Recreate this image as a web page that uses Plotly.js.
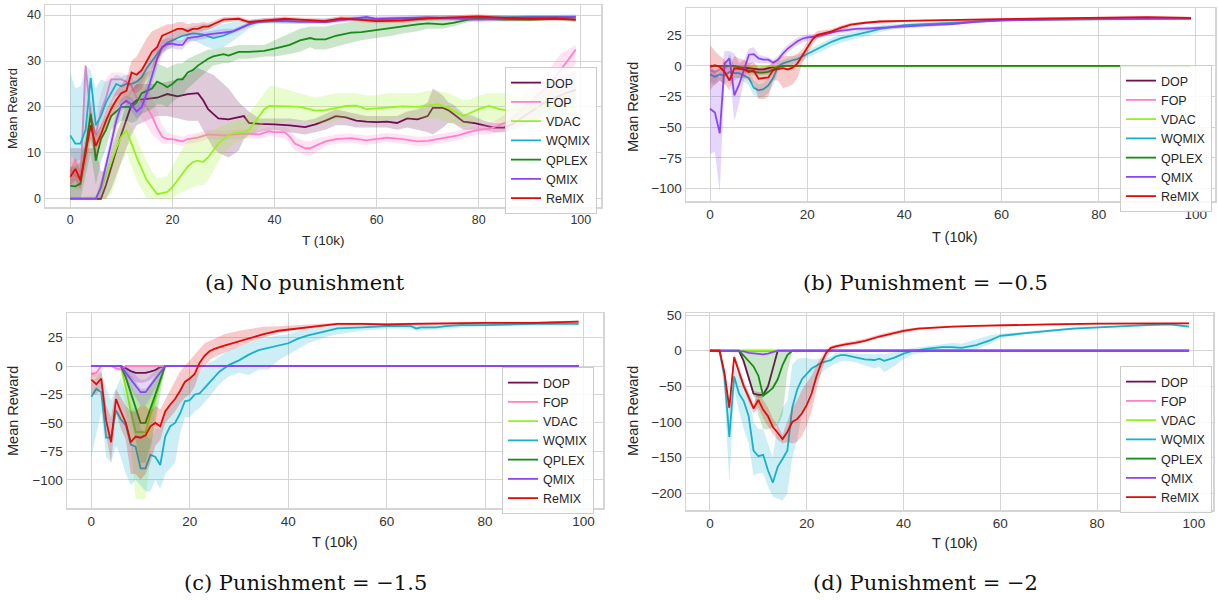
<!DOCTYPE html>
<html>
<head>
<meta charset="utf-8">
<script src="https://cdn.plot.ly/plotly-3.0.1.min.js"></script>
<style>html,body{margin:0;padding:0;background:#fff;}#chart{width:1218px;height:600px;}</style>
</head>
<body>
<div id="chart"></div>
<script>
// ---------- Series names & tick labels ----------
const SERIES = ['DOP','FOP','VDAC','WQMIX','QPLEX','QMIX','ReMIX'];
const X_TICKS = [0,20,40,60,80,100];
const A_Y_TICKS = [0,10,20,30,40];
const B_Y_TICKS = [-100,-75,-50,-25,0,25];
const C_Y_TICKS = [-100,-75,-50,-25,0,25];
const D_Y_TICKS = [-200,-150,-100,-50,0,50];
const CAPTIONS = ['(a) No punishment','(b) Punishment = \u22120.5','(c) Punishment = \u22121.5','(d) Punishment = \u22122'];

// ---------- Panel (a): No punishment ----------
const A_DOP_X = [0,3,5,6,7,8,9,10,11,12,13,15,17,19,21,23,25,26,27,28,29,31,33,34,35,37,40,43,46,48,50,52,54,56,58,60,62,64,66,68,70,71,73,74,75,77,79,81,83,85,87,89,91,93,95,97,99];
const A_DOP = [0,0,0,0,3,7,10.5,14,17.5,20.5,21.5,21.8,22,22.8,22.3,22.8,23,21.5,19.5,18.5,17.5,17.3,17.8,18,16.5,16.3,16.2,16,15.6,16.2,17,18,17.7,17,16.8,16.7,16.8,16.5,17.5,17.3,18,19.8,19.8,19.3,18.5,16.8,16.5,16,15.5,15.5,16.5,18,19.5,21,22,23,23.7];
const A_DOP_LO = [0,0,0,0,0,2,5,8,11,14,16,17,18,18,17.5,17,17,15,13,11,10,9,10.5,13,14,14.5,15,14.5,14,14.5,15,16,16,15.5,15.5,15.5,15.5,15,15.5,15,14.5,14,15.5,16.5,16.5,15,15,15,14.5,14.5,15,16,17,18.5,19.5,20.5,21];
const A_DOP_HI = [11,11,11,6,6,10,14,17,21,24,25,25,25,25.5,26,27,28.5,28,27.5,27,26,24,21,20,19,17.5,17.5,17.5,17,17.5,18.5,19.5,19,18.5,18,18,18,18,19,19.5,21,24,22.5,21,20.5,18.5,18,17,16.5,16.5,18,20,22,24,25.5,27,28];

const A_FOP_X = [0,1,2,3,4,5,6,7,8,9,10,11,12,13,14,15,16,17,18,19,20,22,23,25,27,30,32,35,37,39,40,42,43,44,46,47,48,50,52,55,58,60,62,65,68,70,72,74,76,78,80,82,84,86,88,90,92,94,96,99];
const A_FOP = [6.5,5,4.5,29,18,14,19,22,26,26,26,25.5,24.5,22,21,20,18,15.5,13.5,13,13,12.5,13,13.3,14,13.8,14,14.2,14,14.7,14.5,14.5,13.5,12,11,11,11.5,12.5,13,13.2,12.7,13,13.3,13,12.5,12.6,13,13.3,13.8,14.5,15,15.2,16,17,19,21,23,25,28,32.5];
const A_FOP_LO = [3,2,2,15,12,10,15,18,22,22.5,22.5,22,21,19,17.5,16,14,13,12,12,12,11.5,12,12.3,13,12.8,13,13.2,13,13.7,13.5,13.2,12,10.5,9.5,9.5,10,11.5,12,12.2,11.7,12,12.3,12,11.5,11.6,12,12.3,12.8,13.5,14,14,14.5,15,16.5,18,20,21.5,24,29.5];
const A_FOP_HI = [10,8,8,29.5,22,18,23,26,27.5,27.5,27.5,27,26.5,25,24.5,24,22.5,19,16,14.5,14,13.5,14,14.3,15,14.8,15,15.2,15,15.7,15.5,15.7,15,13.5,12.5,12.5,13,13.5,14,14.2,13.7,14,14.3,14,13.5,13.6,14,14.3,14.8,15.5,16,16.4,17.5,19,21.5,24,26,28.5,31.5,33.5];

const A_VDAC_X = [0,5,6,7,8,9,10,11,12,13,14,15,16,17,18,19,20,21,22,23,24,25,26,27,28,29,30,31,32,34,35,36,37,38,39,40,43,45,48,50,52,54,56,58,60,62,65,68,70,72,74,76,77,78,80,82,84,86,88,90,94,99];
const A_VDAC = [0,0,2,5,8,11,13.5,14.8,12,9,6.5,4,2.5,1,1.2,1.5,2.5,4,5.5,7,8,8.3,8,9,10.5,12,13,14,14.3,14.5,15,16.5,18,19.5,20.2,20.2,20.1,20,19.2,19.3,19.8,20.2,20.3,19.5,19.7,19.9,20.1,20,20.3,20.6,19.8,18.5,18,18.5,19.5,20.2,19.5,19.2,19.5,19.8,20,20];
const A_VDAC_LO = [0,0,0,0,1,4,8,10,7,4,2,0,0,0,0,0,0,1,1.5,2,2.5,3,3,4,6,8,10,11,12,13,13.5,14.5,15.5,16.5,17,16.5,17,17,16.5,16.5,17,17.5,17.5,17,17,17,17.5,17.5,17.5,17.5,16.5,16,15.5,16,17,17,16.5,16.5,17,17,17.5,17.5];
const A_VDAC_HI = [0,1,4,8,11,14,16.5,17,15.5,13,10.5,8,6,4.5,4.5,5,7,9,11,12.5,13.5,14,14,14.5,15,15.5,16,16.5,17,17.5,18.5,20,21.5,23,24.5,24.5,23.5,23,22,22.5,23,23,23,22.5,22.5,23,23,23,23.5,23.5,23,22,21.5,21.5,22.5,23,23,23,23,23,23.5,23.5];

const A_WQMIX_X = [0,1,2,3,4,5,6,7,8,9,10,11,12,13,14,15,16,17,18,19,20,22,24,26,28,30,32,35,37,40,45,50,55,60,65,70,75,80,85,90,95,99];
const A_WQMIX = [13.8,12,12,15,26.3,16,18,21,23,25,24.5,25,25,25.5,26.5,28.5,30,31.5,33,34,34.5,35.5,36,35.8,35,35.5,36.5,38,38.5,38.7,38.6,38.8,39.2,39,39.2,39.3,39.4,39.5,39.5,39.6,39.6,39.6];
const A_WQMIX_LO = [10,8,8.5,10,18,13,15.5,18.5,20.5,22.5,22.5,23,23.5,24,25,27,28.5,30,31.5,32.5,33,34,34.5,33.5,32.5,33,34.5,37,38,38.2,38.1,38.3,38.7,38.5,38.7,38.8,38.9,39,39,39.1,39.1,39.1];
const A_WQMIX_HI = [27.5,24,24.5,29,28,24,26,25.5,26,27,26.5,27,27,27.5,28.5,30,31.5,33,34.5,35.5,36,37,37.5,38,38,38,38.5,39,39,39.2,39.1,39.3,39.7,39.5,39.7,39.8,39.9,40,40,40.1,40.1,40.1];

const A_QPLEX_X = [0,1,2,3,4,5,6,7,8,9,10,11,12,13,14,15,16,17,18,19,20,21,22,23,24,25,27,28,30,31,33,35,38,40,43,45,47,48,50,52,55,57,60,63,65,68,70,73,75,78,80,85,90,95,99];
const A_QPLEX = [2.8,2.7,3.3,11,18.5,8.3,13,15,18,19,20,20,20,21,23,23.5,24,25.5,25,24.3,25,26,26,27.5,28,29,30.5,31,31.5,31.2,32,32,32.2,32.7,33.5,34.5,35,34.7,34.7,35.5,36.2,36.3,36.8,37.2,37.6,38,38.2,38,38.3,39,39.2,39,39,39.2,39];
const A_QPLEX_LO = [0,0,0,5,10,3,8,11,15,16,17,17,16.5,17,18.5,19,19.5,20.5,20.5,20,21,22,22.5,24,25,26,28,29,29.5,29.5,30.5,30.5,31,31,31.5,32,33,32.5,32.5,33,34,34.5,35,35.5,36,36.5,37,37,37.5,38.5,38.8,38.6,38.6,38.8,38.6];
const A_QPLEX_HI = [7,7,8,14,21,14,16,18,20.5,21.5,22.5,23,23.5,25,27,27.5,28,29.5,29,28.5,29,29.5,29.5,30.5,31,31.5,32.5,32.5,33,33,33.5,33.5,33.5,34.5,36,37,37.5,37.5,37.5,38,38.5,38.5,38.8,39,39.2,39.5,39.5,39.3,39.5,39.5,39.6,39.4,39.4,39.6,39.4];

const A_QMIX_X = [0,5,6,7,8,9,10,11,12,13,14,15,16,17,18,19,20,21,22,23,25,27,30,32,34,36,38,40,45,50,55,58,60,65,70,75,80,85,90,95,99];
const A_QMIX = [0,0,2.5,7,12,17,20.5,21.3,20.5,19,20,23,27,30.5,33,33.7,33.8,33.5,33.5,35,35.3,35.8,36.2,36.5,37.5,38.5,38.8,38.8,38.6,38.5,39.2,39.6,39.2,39.3,39.5,39.3,39,39.2,39.5,39.5,39.6];
const A_QMIX_LO = [0,0,0.5,4.5,9.5,15,19,20,19,17.5,18.5,21,25,28.5,31.5,32.5,32.8,32.5,32.5,34,34.5,35,35.5,36,37,38,38.3,38.3,38.1,38,38.7,39.1,38.7,38.8,39,38.8,38.5,38.7,39,39,39.1];
const A_QMIX_HI = [0,0,4,9,14,19,22,22.5,22,20.5,21.5,25,29,32.5,34.5,35,35,34.5,34.5,36,36,36.5,37,37,38,39,39.3,39.3,39.1,39,39.7,40.1,39.7,39.8,40,39.8,39.5,39.7,40,40,40.1];

const A_REMIX_X = [0,1,2,3,4,5,6,7,8,9,10,11,12,13,14,15,16,17,18,19,20,21,22,23,24,25,26,27,28,30,33,35,38,40,42,45,48,50,53,56,60,65,70,75,80,85,90,95,99];
const A_REMIX = [4.8,6.5,4,10,16,11.5,14,17,19.5,21.5,23,23.5,27.5,27,28,30,32,33,35.5,36,36.5,37,37,36.5,37,37,37.5,37.5,38,39,39.2,38.5,38.8,39,39.2,39,38.8,38.7,39.3,39,38.7,38.8,39.3,39.5,39.7,39.4,39.2,39.3,39];
const A_REMIX_LO = [3,4,2,7,13,9,12,15,17.5,19.5,21,21,23.5,23,24,26,28,29.5,32,33,34,35,35.5,35.5,36,36,36.5,36.8,37.3,38.4,38.7,38,38.3,38.5,38.7,38.5,38.3,38.2,38.8,38.5,38.2,38.3,38.8,39,39.2,38.9,38.7,38.8,38.5];
const A_REMIX_HI = [6.5,9,6,13,19,14,16,19,21.5,23.5,25,26,30,31,33,35,36.5,37,37.5,38,38,38.5,38.5,38,38.3,38.2,38.5,38.3,38.7,39.6,39.7,39,39.3,39.5,39.7,39.5,39.3,39.2,39.8,39.5,39.2,39.3,39.8,40,40.2,39.9,39.7,39.8,39.5];

// ---------- Panel (b): Punishment = -0.5 ----------
const B_DOP_X = [0,5,6,8,9,10,11,12,13,14,99];
const B_DOP = [0,0,-1,-2,-3,-3,-3,-2,-1,0,0];
const B_DOP_LO = [0,0,-3,-5,-6,-6,-6,-5,-3,0,0];
const B_DOP_HI = [0,0,0,0,-1,-1,-1,0,0,0,0];

const B_FOP_X = [0,1,2,3,4,99];
const B_FOP = [-4,-5,-3,-1,0,0];
const B_FOP_LO = [-12,-14,-8,-4,0,0];
const B_FOP_HI = [2,1,0,0,0,0];

const B_VDAC_X = [0,99];
const B_VDAC = [0,0];

const B_WQMIX_X = [0,1,2,3,4,5,6,7,8,9,10,11,12,13,14,15,16,17,18,19,20,22,23,25,27,30,33,35,38,40,45,50,55,60,70,80,90,99];
const B_WQMIX = [-7,-9,-7,-8,-5,-6,-6,-8,-10,-18,-20,-19,-16,-10,-0.5,2,3.5,4.5,5.5,7.5,10,14,16,19.5,22.5,25,28,30,32,33,34,35,36,37,37.5,38,38,38];
const B_WQMIX_LO = [-14,-16,-12,-15,-12,-12,-10,-13,-16,-24,-26,-25,-22,-16,-5,-2,0,1.5,2.5,4,6.5,10,12,15.5,19,22,25,27.5,30,31,32.5,33.5,35,36,37,37.5,37.5,37.5];
const B_WQMIX_HI = [-2,-3,-3,-1,10,0,-2,-4,-5,-12,-15,-14,-10,-4,3,5,6.5,7.5,8.5,10.5,13,17,19,22.5,25.5,28,31,32.5,34,34.5,35.5,36.5,37,37.8,38,38.5,38.5,38.5];

const B_QPLEX_X = [0,5,6,7,8,9,10,11,12,13,14,15,99];
const B_QPLEX = [0,0,-1,-2,-4,-5,-5.5,-5.5,-5,-3,-1,0,0];
const B_QPLEX_LO = [0,0,-3,-5,-7,-8,-8,-8,-7.5,-5.5,-3,0,0];
const B_QPLEX_HI = [0,0,0,0,-1.5,-2.5,-3,-3,-2.5,-1,0,0,0];

const B_QMIX_X = [0,1,2,3,4,5,6,7,8,9,10,11,12,13,14,15,16,17,18,19,20,22,24,26,28,30,33,35,40,45,50,55,60,70,80,90,99];
const B_QMIX = [-35,-38,-55,2,6,-24,-15,-3,9,9.5,6,5,5,2.5,5,10,14,17,20,22,23,24,26,28,29,30,30.5,31,32,33,34,36,37,37.5,38.5,39,39];
const B_QMIX_LO = [-72,-70,-103,-10,-5,-45,-30,-12,0,3,2,2,2,0,2,7,11,14,17,19,20.5,22,24,26,27,28.5,29,29.5,30.5,31.5,32.5,34.5,36,37,38,38.5,38.5];
const B_QMIX_HI = [0,-5,-10,12,12,10,2,5,14,15,9,8,7,5,8,13,17,20,23,24.5,25.5,26,28,30,31,31.5,32,32.5,33.5,34.5,35.5,37.5,38,38,39,39.5,39.5];

const B_REMIX_X = [0,1,2,3,4,5,6,7,8,9,10,11,12,13,14,15,16,17,18,19,20,21,22,23,25,27,29,32,35,40,45,50,55,60,70,80,90,99];
const B_REMIX = [-1,0.5,-1,-5,-12,-2,-2.5,-3,-5,-4,-10.5,-10,-9.5,-3.5,-3,-2,-3,-1.5,2,8,15,21,25,26,28,31,33.5,35,36,36.5,37,37.5,38,38,38.5,39,39.5,39];
const B_REMIX_LO = [-20,-15,-12,-15,-20,-10,-10,-10,-12,-15,-27,-27,-25,-12,-12,-18,-17,-15,-10,2,10,17,22,23.5,26,29,32,34,35,35.7,36.3,36.8,37.3,37.3,37.8,38.3,38.8,38.3];
const B_REMIX_HI = [17,12,8,5,-2,8,6,5,2,3,-2,-1,0,3,5,8,8,8,10,13,19,24,28,28.5,30,33,35,36,37,37.3,37.7,38.2,38.7,38.7,39.2,39.7,40.2,39.7];

// ---------- Panel (c): Punishment = -1.5 ----------
const C_DIP_X = [0,6,7,8,9,10,11,12,13,14,15,99];
const C_DOP = [0,0,-2,-4.5,-6,-6,-6,-5,-3.5,-1,0,0];
const C_DOP_LO = [0,0,-6,-10,-14,-15,-14,-12,-8,-3,0,0];
const C_DOP_HI = [0,0,0,0,0,0,0,0,0,0,0,0];

const C_FOP_X = [0,1,2,3,4,5,6,7,99];
const C_FOP = [-7,-6,0,0,0,-2,-3,0,0];
const C_FOP_LO = [-10,-9,-2,0,0,-4,-5,0,0];
const C_FOP_HI = [0,0,0,0,0,0,0,0,0];

const C_VDAC = [0,0,-20,-40,-58,-58,-58,-43,-29,-14,0,0];
const C_VDAC_LO = [0,0,-40,-70,-117,-117,-117,-80,-40,-10,0,0];
const C_VDAC_HI = [0,0,-5,-15,-25,-25,-25,-15,-5,0,0,0];

const C_WQMIX_X = [0,1,2,3,4,5,6,7,8,9,10,11,12,13,14,15,16,17,18,19,20,21,22,23,24,25,26,27,28,30,32,34,36,38,40,42,44,46,48,50,55,60,65,66,67,70,72,75,80,90,99];
const C_WQMIX = [-27,-20,-23,-63,-63,-39,-47,-52,-69,-71,-90,-90,-78,-80,-87,-62,-53,-50,-42,-31,-30,-25,-24,-19,-14,-10,-5,-2,1,5,10,14,16,18,20,24,27,29,31,33,34,35,35,33,34,34,35,36,36,37,37];
const C_WQMIX_LO = [-80,-60,-40,-80,-85,-70,-80,-95,-105,-100,-105,-110,-110,-100,-108,-95,-90,-85,-60,-45,-45,-40,-37,-32,-27,-22,-16,-12,-9,-6,-8,-3,-3,5,10,15,20,23,26,28,31,33,33,31,31,32,33,34,35,36,36];
const C_WQMIX_HI = [-15,-10,-5,-20,-30,-20,-10,-25,-40,-35,-55,-60,-65,-55,-55,-40,-35,-30,-20,-15,-12,-8,-5,-1,3,5,8,11,14,17,20,23,25,27,28,31,33,34,35,36,37,37,37,36,36,36,37,37.5,37.5,38,38];

const C_QPLEX = [0,0,-10,-24,-36,-50,-50,-38,-25,-12,0,0];
const C_QPLEX_LO = [0,0,-20,-45,-65,-85,-85,-70,-50,-25,0,0];
const C_QPLEX_HI = [0,0,-2,-8,-15,-20,-20,-15,-8,-3,0,0];

const C_QMIX = [0,0,-6,-12,-18,-23,-23,-17,-11,-5,0,0];
const C_QMIX_LO = [0,0,-12,-20,-28,-35,-35,-28,-20,-10,0,0];
const C_QMIX_HI = [0,0,0,-4,-8,-12,-12,-8,-4,0,0,0];

const C_REMIX_X = [0,1,2,3,4,5,6,7,8,9,10,11,12,13,14,15,16,17,18,19,20,21,22,23,24,25,27,30,33,35,38,40,43,45,50,55,60,65,70,80,90,99];
const C_REMIX = [-12,-16,-11,-48,-67,-29,-40,-50,-67,-62,-63,-61,-53,-50,-53,-40,-34,-29,-22,-14,-11,-7,3,9,13,15,18,22,26,28,31,32,34,35,37,37,36.5,37,37.5,38,38,39];
const C_REMIX_LO = [-25,-25,-20,-60,-85,-40,-55,-65,-95,-95,-100,-95,-85,-70,-65,-50,-45,-40,-33,-28,-25,-18,-5,0,5,8,12,17,22,25,29,30.5,32.5,33.5,36,36,35.5,36,36.5,37,37,38];
const C_REMIX_HI = [-5,-8,-3,-35,-45,-20,-28,-35,-40,-40,-35,-35,-40,-35,-38,-30,-22,-13,-5,0,5,10,16,20,22,24,28,31,33,34.5,35,35.5,36.5,37,38,38,37.5,38,38.5,39,39,40];

// ---------- Panel (d): Punishment = -2 ----------
const D_DOP_X = [0,6,7,8,9,10,11,12,13,14,99];
const D_DOP = [0,0,-15,-38,-60,-62,-62,-50,-25,0,0];
const D_DOP_LO = [0,0,-19,-42,-64,-66,-66,-54,-29,0,0];
const D_DOP_HI = [0,0,-11,-34,-56,-58,-58,-46,-21,0,0];

const D_FOP_X = [0,99];
const D_FOP = [0,0];

const D_VDAC_X = [0,6,7,13,14,99];
const D_VDAC = [0,0,0,0,0,0];
const D_VDAC_LO = [0,0,0,0,0,0];
const D_VDAC_HI = [0,0,3,3,0,0];

const D_WQMIX_X = [0,1,2,3,4,5,6,7,8,9,10,11,12,13,14,15,16,17,18,19,20,21,22,23,24,25,26,27,28,30,32,34,35,36,38,40,42,45,48,50,52,55,58,60,65,70,75,80,85,90,95,99];
const D_WQMIX = [0,0,-1,-36,-121,-36,-60,-71,-92,-140,-148,-146,-168,-185,-163,-152,-140,-80,-55,-40,-32,-25,-21,-17,-15,-13,-8,-6,-6,-9,-12,-13,-11,-14,-10,-4,0,3,5,5,4,8,15,21,25,28,31,33,35,36,37,34];
const D_WQMIX_LO = [0,0,-5,-60,-185,-55,-85,-110,-130,-175,-172,-172,-190,-205,-208,-210,-200,-150,-125,-90,-70,-55,-45,-32,-25,-22,-18,-15,-14,-16,-20,-25,-22,-30,-22,-12,-5,-2,0,0,-1,2,10,18,23,26.5,29.5,31.5,33.5,34.5,35.5,32.5];
const D_WQMIX_HI = [0,0,0,-25,-70,-20,-35,-40,-60,-100,-110,-110,-130,-150,-100,-80,-70,-20,-12,-10,-10,-12,-12,-10,-10,-8,-3,-2,-2,-4,-5,-5,-4,-5,-2,2,4,7,10,11,10,16,22,24,27,29.5,32.5,34.5,36.5,37.5,38.5,35.5];

const D_QPLEX_X = [0,6,7,8,9,10,11,12,13,14,15,16,17,99];
const D_QPLEX = [0,0,-7,-15,-22,-35,-63,-58,-52,-40,-20,-6,0,0];
const D_QPLEX_LO = [0,0,-15,-35,-60,-90,-110,-110,-108,-105,-90,-30,0,0];
const D_QPLEX_HI = [0,0,0,0,0,0,0,0,0,0,0,0,0,0];

const D_QMIX_X = [0,6,7,8,9,10,11,12,13,14,99];
const D_QMIX = [0,0,-1,-3,-4,-5,-5,-4,-2,0,0];

const D_REMIX_X = [0,1,2,3,4,5,6,7,8,9,10,11,12,13,14,15,16,17,18,19,20,21,22,23,24,25,26,27,28,30,32,35,38,40,43,45,50,55,60,70,80,90,99];
const D_REMIX = [0,0,0,-31,-80,-9,-31,-50,-65,-81,-69,-83,-92,-107,-115,-124,-114,-100,-96,-88,-76,-60,-36,-17,-3,4,6,8,9,11,14,20,25,28,31,32,34,35,36,37,38,38.5,38.5];
const D_REMIX_LO = [0,0,0,-36,-85,-14,-36,-55,-72,-88,-80,-95,-105,-117,-125,-130,-128,-130,-128,-120,-105,-85,-55,-30,-10,0,3,5,6.5,8.5,11.5,17.5,22.5,25.5,29,30.5,32.5,34,35,36,37,37.5,37.5];
const D_REMIX_HI = [0,0,0,-26,-75,-4,-26,-45,-58,-74,-58,-70,-80,-95,-105,-118,-100,-80,-70,-55,-45,-35,-20,-8,2,7,9,11,12,14,17,23,27.5,30.5,33,33.5,35.5,36,37,38,39,39.5,39.5];

// ---------- Styling ----------
const COLORS = {DOP:'#6d0f50', FOP:'#ff7fca', VDAC:'#96f21e', WQMIX:'#17b1cc', QPLEX:'#158c15', QMIX:'#8b45f6', ReMIX:'#e00b0b'};
const FONT = 'Liberation Sans, Arial, Helvetica, sans-serif';

function rgba(hex, a){
  const n = parseInt(hex.slice(1),16);
  return 'rgba('+((n>>16)&255)+','+((n>>8)&255)+','+(n&255)+','+a+')';
}

const traces = [];
function addSeries(panel, name, xs, ys, lo, hi){
  const sfx = panel === 1 ? '' : String(panel);
  const xa = 'x'+sfx, ya = 'y'+sfx;
  const lg = 'legend'+sfx;
  if (lo && hi){
    traces.push({
      type:'scatter', mode:'lines', xaxis:xa, yaxis:ya,
      x: xs.concat(xs.slice().reverse()),
      y: hi.concat(lo.slice().reverse()),
      fill:'toself', fillcolor: rgba(COLORS[name], 0.22),
      line:{width:0, color:'rgba(0,0,0,0)'},
      hoverinfo:'skip', showlegend:false, legend: lg
    });
  }
  traces.push({
    type:'scatter', mode:'lines', xaxis:xa, yaxis:ya, name:name,
    x: xs, y: ys, line:{color:COLORS[name], width:1.8},
    showlegend:true, legend: lg
  });
}

// Panel a
addSeries(1,'DOP',A_DOP_X,A_DOP,A_DOP_LO,A_DOP_HI);
addSeries(1,'FOP',A_FOP_X,A_FOP,A_FOP_LO,A_FOP_HI);
addSeries(1,'VDAC',A_VDAC_X,A_VDAC,A_VDAC_LO,A_VDAC_HI);
addSeries(1,'WQMIX',A_WQMIX_X,A_WQMIX,A_WQMIX_LO,A_WQMIX_HI);
addSeries(1,'QPLEX',A_QPLEX_X,A_QPLEX,A_QPLEX_LO,A_QPLEX_HI);
addSeries(1,'QMIX',A_QMIX_X,A_QMIX,A_QMIX_LO,A_QMIX_HI);
addSeries(1,'ReMIX',A_REMIX_X,A_REMIX,A_REMIX_LO,A_REMIX_HI);
// Panel b
addSeries(2,'DOP',B_DOP_X,B_DOP,B_DOP_LO,B_DOP_HI);
addSeries(2,'FOP',B_FOP_X,B_FOP,B_FOP_LO,B_FOP_HI);
addSeries(2,'VDAC',B_VDAC_X,B_VDAC,null,null);
addSeries(2,'WQMIX',B_WQMIX_X,B_WQMIX,B_WQMIX_LO,B_WQMIX_HI);
addSeries(2,'QPLEX',B_QPLEX_X,B_QPLEX,B_QPLEX_LO,B_QPLEX_HI);
addSeries(2,'QMIX',B_QMIX_X,B_QMIX,B_QMIX_LO,B_QMIX_HI);
addSeries(2,'ReMIX',B_REMIX_X,B_REMIX,B_REMIX_LO,B_REMIX_HI);
// Panel c
addSeries(3,'DOP',C_DIP_X,C_DOP,C_DOP_LO,C_DOP_HI);
addSeries(3,'FOP',C_FOP_X,C_FOP,C_FOP_LO,C_FOP_HI);
addSeries(3,'VDAC',C_DIP_X,C_VDAC,C_VDAC_LO,C_VDAC_HI);
addSeries(3,'WQMIX',C_WQMIX_X,C_WQMIX,C_WQMIX_LO,C_WQMIX_HI);
addSeries(3,'QPLEX',C_DIP_X,C_QPLEX,C_QPLEX_LO,C_QPLEX_HI);
addSeries(3,'QMIX',C_DIP_X,C_QMIX,C_QMIX_LO,C_QMIX_HI);
addSeries(3,'ReMIX',C_REMIX_X,C_REMIX,C_REMIX_LO,C_REMIX_HI);
// Panel d
addSeries(4,'DOP',D_DOP_X,D_DOP,D_DOP_LO,D_DOP_HI);
addSeries(4,'FOP',D_FOP_X,D_FOP,null,null);
addSeries(4,'VDAC',D_VDAC_X,D_VDAC,D_VDAC_LO,D_VDAC_HI);
addSeries(4,'WQMIX',D_WQMIX_X,D_WQMIX,D_WQMIX_LO,D_WQMIX_HI);
addSeries(4,'QPLEX',D_QPLEX_X,D_QPLEX,D_QPLEX_LO,D_QPLEX_HI);
addSeries(4,'QMIX',D_QMIX_X,D_QMIX,null,null);
addSeries(4,'ReMIX',D_REMIX_X,D_REMIX,D_REMIX_LO,D_REMIX_HI);

const W = 1218, H = 600;
function px(x){ return x / W; }
function py(y){ return 1 - y / H; }

function xAxis(domain, anchor, fs){
  return {domain:domain, anchor:anchor, range:[-4.95,103.95], tickvals:X_TICKS,
    showgrid:true, gridcolor:'#d5d5d5', gridwidth:1, zeroline:false,
    showline:true, mirror:true, linecolor:'#d5d5d5', linewidth:1.5,
    ticks:'', tickfont:{family:FONT, size:fs, color:'#333'}, automargin:false, fixedrange:true};
}
function yAxis(domain, anchor, range, tv, fs){
  return {domain:domain, anchor:anchor, range:range, tickvals:tv,
    showgrid:true, gridcolor:'#d5d5d5', gridwidth:1, zeroline:false,
    showline:true, mirror:true, linecolor:'#d5d5d5', linewidth:1.5,
    ticks:'', tickfont:{family:FONT, size:fs, color:'#333'}, automargin:false, fixedrange:true};
}
function legendAt(x, y){
  return {x:px(x), y:py(y), xanchor:'left', yanchor:'top', xref:'paper', yref:'paper',
    bgcolor:'rgba(255,255,255,0.85)', bordercolor:'#cccccc', borderwidth:1,
    font:{family:FONT, size:12.5, color:'#262626'}, tracegroupgap:0, itemwidth:30};
}
function ann(text, x, y, size, angle, fam){
  return {text:text, xref:'paper', yref:'paper', x:px(x), y:py(y), xanchor:'center', yanchor:'middle',
    showarrow:false, textangle:angle||0, font:{family:fam||FONT, size:size, color:fam ? '#111' : '#262626'}};
}

const SERIF = 'DejaVu Serif, Liberation Serif, serif';
const layout = {
  width:W, height:H, margin:{l:0,r:0,t:0,b:0},
  paper_bgcolor:'#ffffff', plot_bgcolor:'#ffffff', showlegend:true,
  xaxis: xAxis([px(45), px(601)], 'y', 12.5),
  yaxis: yAxis([py(207), py(5)], 'x', [-1.8,42.2], A_Y_TICKS, 12.5),
  xaxis2: xAxis([px(686), px(1215)], 'y2', 13.5),
  yaxis2: yAxis([py(201), py(8)], 'x2', [-110,47], B_Y_TICKS, 13.5),
  xaxis3: xAxis([px(67), px(603)], 'y3', 13.5),
  yaxis3: yAxis([py(508), py(313)], 'x3', [-124.8,46.6], C_Y_TICKS, 13.5),
  xaxis4: xAxis([px(686), px(1213)], 'y4', 13.5),
  yaxis4: yAxis([py(510), py(313)], 'x4', [-223.5,53], D_Y_TICKS, 13.5),
  legend: legendAt(505, 67),
  legend2: legendAt(1120, 65),
  legend3: legendAt(502, 367),
  legend4: legendAt(1120, 366),
  annotations: [
    ann('Mean Reward', 13, 109, 13, -90),
    ann('T (10k)', 323, 240, 13.5),
    ann('Mean Reward', 633, 107, 14.5, -90),
    ann('T (10k)', 955, 237, 14.5),
    ann('Mean Reward', 13, 411, 14.5, -90),
    ann('T (10k)', 335, 542, 14.5),
    ann('Mean Reward', 633, 411, 14.5, -90),
    ann('T (10k)', 955, 543, 14.5),
    ann(CAPTIONS[0], 305, 283, 21, 0, SERIF),
    ann(CAPTIONS[1], 925, 283, 21, 0, SERIF),
    ann(CAPTIONS[2], 305, 583, 21, 0, SERIF),
    ann(CAPTIONS[3], 925, 583, 21, 0, SERIF)
  ]
};

Plotly.newPlot('chart', traces, layout, {displayModeBar:false, staticPlot:true});
</script>
</body>
</html>
